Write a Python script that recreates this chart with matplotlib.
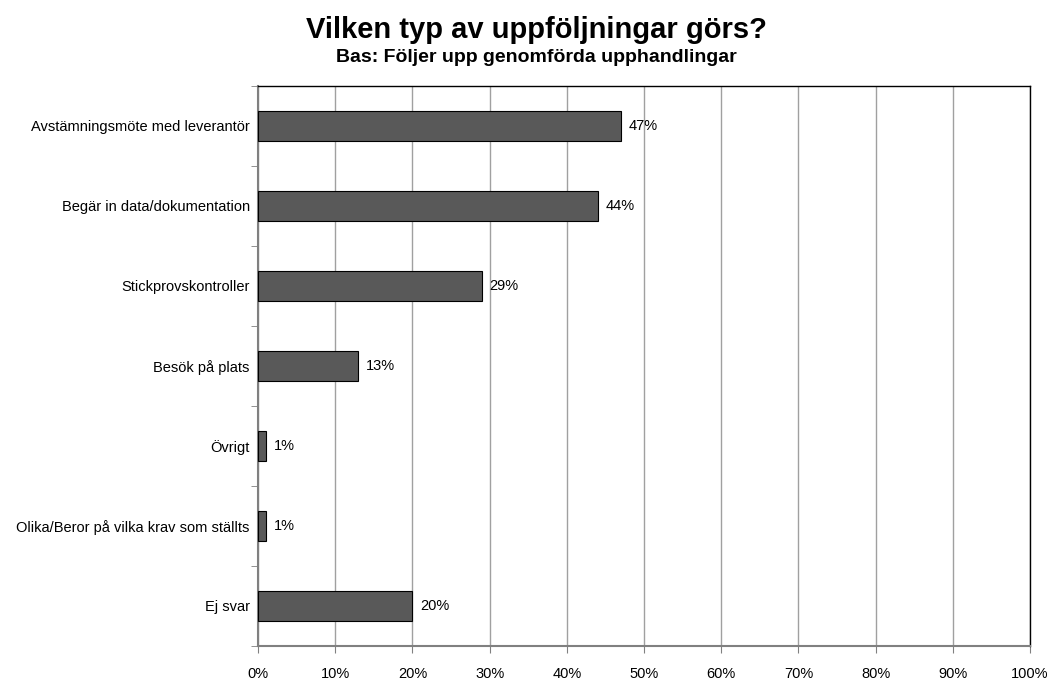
import matplotlib.pyplot as plt
import numpy as np

plt.rcParams['font.family'] = ['Liberation Sans', 'DejaVu Sans']

categories = ['Avstämningsmöte med leverantör', 'Begär in data/dokumentation',
              'Stickprovskontroller', 'Besök på plats', 'Övrigt',
              'Olika/Beror på vilka krav som ställts', 'Ej svar']
values = [47, 44, 29, 13, 1, 1, 20]
xticks = list(range(0, 101, 10))

fig = plt.figure(figsize=(10.5, 6.82), dpi=100)
ax = fig.add_axes([0.2457, 0.0528, 0.7353, 0.8212])

y = np.arange(len(categories))
ax.barh(y, values, height=0.375, color='#595959', edgecolor='black', linewidth=0.8, zorder=3)
for yi, v in zip(y, values):
    ax.text(v + 1, yi, f'{v}%', va='center', ha='left', fontsize=10.5)

ax.set_xlim(0, 100)
ax.set_ylim(len(categories) - 0.5, -0.5)
ax.set_xticks(xticks)
ax.set_xticklabels([f'{t}%' for t in xticks], fontsize=10.5)
ax.set_yticks(y)
ax.set_yticklabels(categories, fontsize=10.5)
ax.set_yticks(np.arange(-0.5, len(categories), 1), minor=True)
ax.tick_params(axis='y', which='major', length=0, pad=6)
ax.tick_params(axis='y', which='minor', length=5, color='#808080', direction='out')
ax.tick_params(axis='x', length=5, color='#808080', pad=10)
ax.grid(axis='x', color='#a0a0a0', linewidth=1, zorder=0)

for s in ['left', 'bottom']:
    ax.spines[s].set_color('#808080')
    ax.spines[s].set_linewidth(1.5)
for s in ['top', 'right']:
    ax.spines[s].set_color('black')
    ax.spines[s].set_linewidth(1)

fig.text(0.511, 0.944, 'Vilken typ av uppföljningar görs?', ha='center', va='baseline',
         fontsize=21, fontweight='bold')
fig.text(0.511, 0.9095, 'Bas: Följer upp genomförda upphandlingar', ha='center', va='baseline',
         fontsize=14, fontweight='bold')

plt.savefig('out.png', dpi=100)
